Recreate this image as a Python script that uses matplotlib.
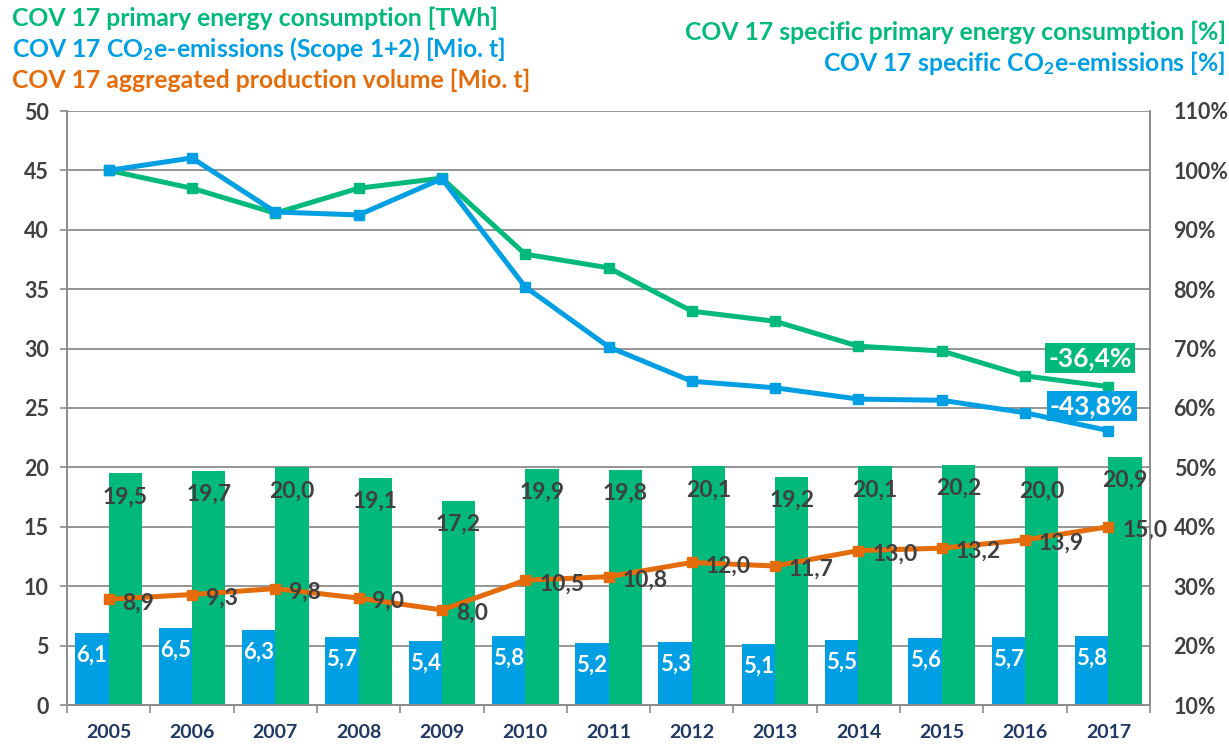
import matplotlib
matplotlib.use("Agg", force=True)

import numpy as np
import matplotlib.pyplot as plt

plt.rcParams["font.family"] = ["Lato", "DejaVu Sans"]
plt.rcParams["font.weight"] = "bold"
plt.rcParams["mathtext.default"] = "regular"

# data
years = ["2005", "2006", "2007", "2008", "2009", "2010", "2011",
         "2012", "2013", "2014", "2015", "2016", "2017"]
energy_twh = [19.5, 19.7, 20.0, 19.1, 17.2, 19.9, 19.8, 20.1, 19.2, 20.1, 20.2, 20.0, 20.9]
co2_mio_t = [6.1, 6.5, 6.3, 5.7, 5.4, 5.8, 5.2, 5.3, 5.1, 5.5, 5.6, 5.7, 5.8]
production_mio_t = [8.9, 9.3, 9.8, 9.0, 8.0, 10.5, 10.8, 12.0, 11.7, 13.0, 13.2, 13.9, 15.0]
spec_energy_pct = [100.0, 97.0, 92.8, 97.0, 98.7, 85.9, 83.6, 76.3, 74.6, 70.4, 69.6, 65.4, 63.6]
spec_co2_pct = [100.0, 102.1, 93.0, 92.5, 98.6, 80.4, 70.3, 64.5, 63.4, 61.5, 61.3, 59.2, 56.2]
energy_change = "-36,4%"
co2_change = "-43,8%"

green = "#00B97B"
blue = "#009FE3"
orange = "#E46C0A"
dark = "#404040"
navy = "#1F3864"
grid_gray = "#8C8C8C"


def de(v):
    return f"{v:.1f}".replace(".", ",")


fig = plt.figure(figsize=(12.29, 7.48), dpi=100)
ax = fig.add_axes([67 / 1229, 43 / 748, (1150 - 67) / 1229, (705 - 111) / 748])
ax2 = ax.twinx()

x = np.arange(len(years))

# bars
ax.bar(x - 0.2, co2_mio_t, width=0.4, color=blue, zorder=2)
ax.bar(x + 0.2, energy_twh, width=0.4, color=green, zorder=2)

# production line
ax.plot(x, production_mio_t, color=orange, lw=3.6, marker="s", ms=6.5, zorder=4)

for i in range(len(years)):
    ax.annotate(de(co2_mio_t[i]), (x[i] - 0.2, co2_mio_t[i]), xytext=(0, -16),
                textcoords="offset points", ha="center", va="center",
                color="white", fontsize=16, zorder=5)
    ax.annotate(de(energy_twh[i]), (x[i] + 0.2, energy_twh[i]), xytext=(0, -17),
                textcoords="offset points", ha="center", va="center",
                color=dark, fontsize=16.5, zorder=5)
    ax.annotate(de(production_mio_t[i]), (x[i], production_mio_t[i]), xytext=(10, -2.5),
                textcoords="offset points", ha="left", va="center",
                color=dark, fontsize=16.5, zorder=5)

# axes styling
ax.set_xlim(-0.5, len(years) - 0.5)
ax.set_ylim(0, 50)
ax.set_yticks(np.arange(0, 51, 5))
ax.yaxis.grid(True, color=grid_gray, lw=1.3, zorder=0)
ax.set_axisbelow(True)
ax.set_xticks(x)
ax.set_xticklabels(years, color=navy, fontsize=14)
ax.set_xticks(np.arange(-0.5, len(years)), minor=True)
ax.tick_params(axis="x", which="major", length=0, pad=14)
ax.tick_params(axis="x", which="minor", length=6, color=grid_gray, width=1.2)
ax.tick_params(axis="y", length=5, color=grid_gray, width=1.2, labelsize=15.5,
               labelcolor=dark, pad=8)

for a in (ax, ax2):
    a.spines["top"].set_visible(False)
    for s in ("left", "right", "bottom"):
        a.spines[s].set_color(grid_gray)
        a.spines[s].set_linewidth(1.2)

# percentage lines on right axis
ax2.set_ylim(10, 110)
ax2.set_yticks(np.arange(10, 111, 10))
ax2.set_yticklabels([f"{v}%" for v in range(10, 111, 10)])
ax2.tick_params(axis="y", length=0, labelsize=15.5, labelcolor=dark, pad=17)
ax2.plot(x, spec_energy_pct, color=green, lw=3.6, marker="s", ms=7, zorder=3)
ax2.plot(x, spec_co2_pct, color=blue, lw=3.6, marker="s", ms=7, zorder=3)

ax2.text(11.78, 68.4, energy_change, color="white", fontsize=19, ha="center",
         va="center", bbox=dict(boxstyle="square,pad=0.12", fc=green, ec="none"), zorder=6)
ax2.text(11.8, 60.3, co2_change, color="white", fontsize=19, ha="center",
         va="center", bbox=dict(boxstyle="square,pad=0.12", fc=blue, ec="none"), zorder=6)

# header texts
fig.text(12 / 1229, 1 - 18 / 748, "COV 17 primary energy consumption [TWh]",
         color=green, fontsize=17.8, ha="left", va="center")
fig.text(12 / 1229, 1 - 49 / 748, "COV 17 CO$_2$e-emissions (Scope 1+2) [Mio. t]",
         color=blue, fontsize=17.8, ha="left", va="center")
fig.text(12 / 1229, 1 - 80 / 748, "COV 17 aggregated production volume [Mio. t]",
         color=orange, fontsize=17.8, ha="left", va="center")
fig.text(1226 / 1229, 1 - 32 / 748, "COV 17 specific primary energy consumption [%]",
         color=green, fontsize=17.8, ha="right", va="center")
fig.text(1226 / 1229, 1 - 63 / 748, "COV 17 specific CO$_2$e-emissions [%]",
         color=blue, fontsize=17.8, ha="right", va="center")

fig.savefig("out.png", dpi=100)
plt.close(fig)
